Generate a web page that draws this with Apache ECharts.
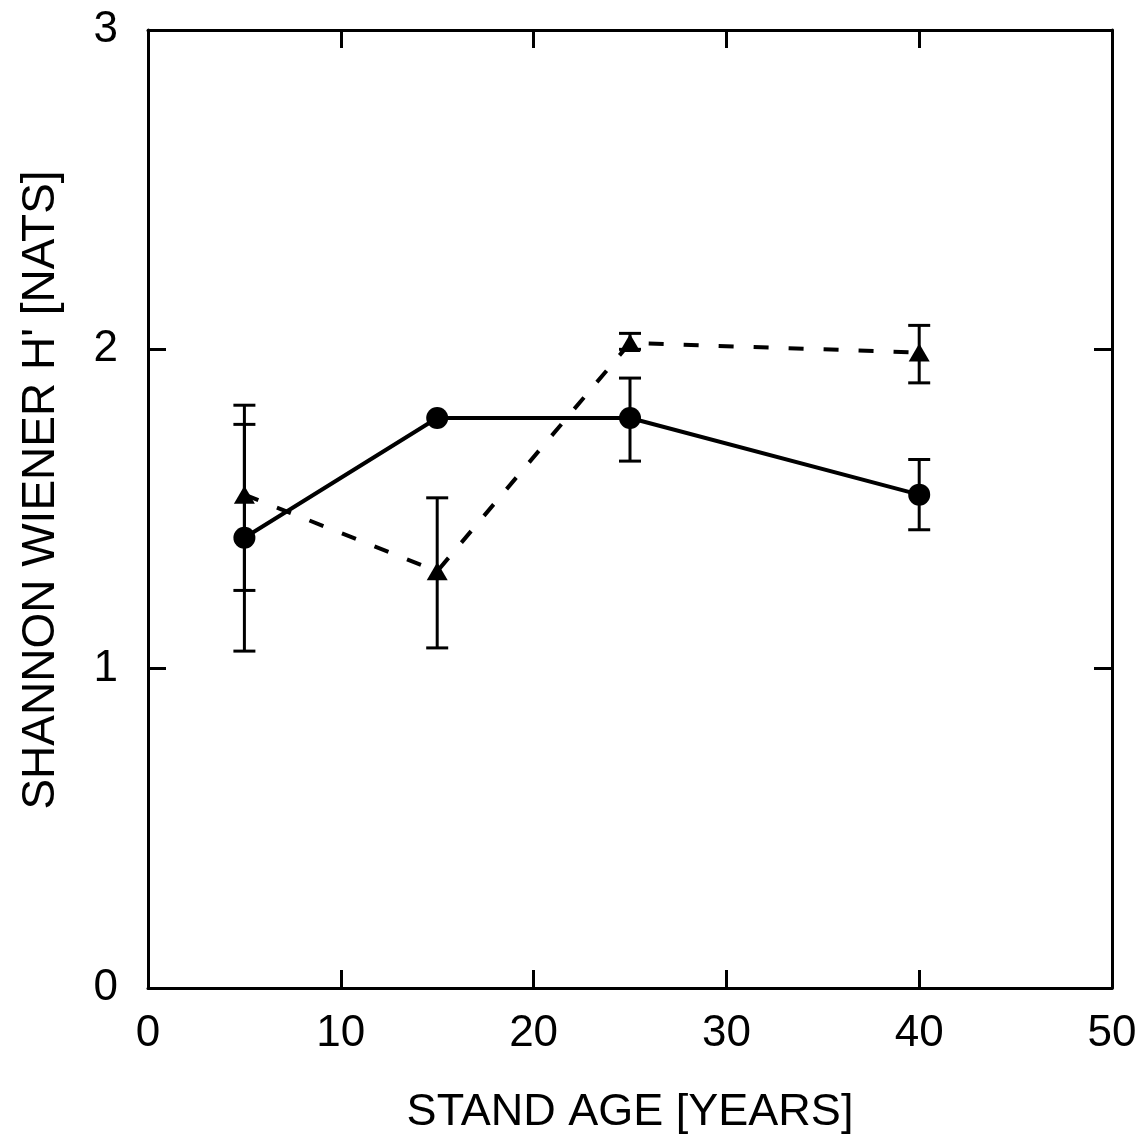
<!DOCTYPE html>
<html>
<head>
<meta charset="utf-8">
<script src="https://cdn.jsdelivr.net/npm/echarts@6/dist/echarts.min.js"></script>
<style>
  html, body { margin: 0; padding: 0; background: #fff; }
  #chart { width: 1148px; height: 1146px; }
</style>
</head>
<body>
<div id="chart"></div>
<script>
// Stand age (years) of the sampled stands
const standAge = [5, 15, 25, 40];

// Shannon-Wiener H' (nats): circles, solid line
const circleMean  = [1.41, 1.785, 1.785, 1.545];
const circleLow   = [1.055, null, 1.65, 1.435];
const circleHigh  = [1.765, null, 1.91, 1.655];

// Shannon-Wiener H' (nats): triangles, dashed line
const triMean  = [1.545, 1.305, 2.02, 1.99];
const triLow   = [1.245, 1.065, 2.0, 1.895];
const triHigh  = [1.825, 1.535, 2.05, 2.075];

// Axis ticks
const xTicks = { min: 0, max: 50, interval: 10 };
const yTicks = { min: 0, max: 3, interval: 1 };

const FONT = '"Liberation Sans", Arial, sans-serif';

function pairs(xs, ys) { return xs.map((x, i) => [x, ys[i]]); }
function bars(xs, lo, hi) {
  const out = [];
  xs.forEach((x, i) => { if (lo[i] != null && hi[i] != null) out.push([x, lo[i], hi[i]]); });
  return out;
}

// Vertical error bar with horizontal caps
function renderErrorBar(params, api) {
  const x = api.value(0);
  const top = api.coord([x, api.value(2)]);
  const bot = api.coord([x, api.value(1)]);
  const half = 11;
  const style = { stroke: '#000', lineWidth: 3 };
  return {
    type: 'group',
    children: [
      { type: 'line', shape: { x1: top[0], y1: top[1], x2: bot[0], y2: bot[1] }, style },
      { type: 'line', shape: { x1: top[0] - half, y1: top[1], x2: top[0] + half, y2: top[1] }, style },
      { type: 'line', shape: { x1: bot[0] - half, y1: bot[1], x2: bot[0] + half, y2: bot[1] }, style }
    ]
  };
}

const axisLine = { show: true, onZero: false, lineStyle: { color: '#000', width: 3 } };
const axisTick = { show: true, inside: true, length: 18, lineStyle: { color: '#000', width: 3 } };

const chart = echarts.init(document.getElementById('chart'), null, { renderer: 'canvas' });
chart.setOption({
  backgroundColor: '#fff',
  animation: false,
  grid: { left: 148, right: 36, top: 30, bottom: 158, containLabel: false, outerBoundsMode: 'none' },
  xAxis: [
    {
      type: 'value', position: 'bottom', ...xTicks,
      axisLine, axisTick, splitLine: { show: false },
      axisLabel: { color: '#000', fontFamily: FONT, fontSize: 44, margin: 24 },
      name: 'STAND AGE [YEARS]', nameLocation: 'middle', nameGap: 102,
      nameTextStyle: { color: '#000', fontFamily: FONT, fontSize: 45 }
    },
    {
      type: 'value', position: 'top', ...xTicks,
      axisLine, axisTick, splitLine: { show: false }, axisLabel: { show: false }
    }
  ],
  yAxis: [
    {
      type: 'value', position: 'left', ...yTicks,
      axisLine, axisTick, splitLine: { show: false },
      axisLabel: { color: '#000', fontFamily: FONT, fontSize: 44, margin: 30 },
      name: "SHANNON WIENER H' [NATS]", nameLocation: 'middle', nameGap: 84,
      nameTextStyle: { color: '#000', fontFamily: FONT, fontSize: 46, padding: [0, 0, 0, 38] }
    },
    {
      type: 'value', position: 'right', ...yTicks,
      axisLine, axisTick, splitLine: { show: false }, axisLabel: { show: false }
    }
  ],
  series: [
    {
      type: 'custom', renderItem: renderErrorBar,
      data: bars(standAge, circleLow, circleHigh), z: 2
    },
    {
      type: 'custom', renderItem: renderErrorBar,
      data: bars(standAge, triLow, triHigh), z: 2
    },
    {
      type: 'line', data: pairs(standAge, triMean),
      symbol: 'triangle', symbolSize: [21, 18],
      itemStyle: { color: '#000' },
      lineStyle: { color: '#000', width: 4, type: [15, 20] },
      z: 3
    },
    {
      type: 'line', data: pairs(standAge, circleMean),
      symbol: 'circle', symbolSize: 22,
      itemStyle: { color: '#000' },
      lineStyle: { color: '#000', width: 4, type: 'solid' },
      z: 4
    }
  ]
});
</script>
</body>
</html>
